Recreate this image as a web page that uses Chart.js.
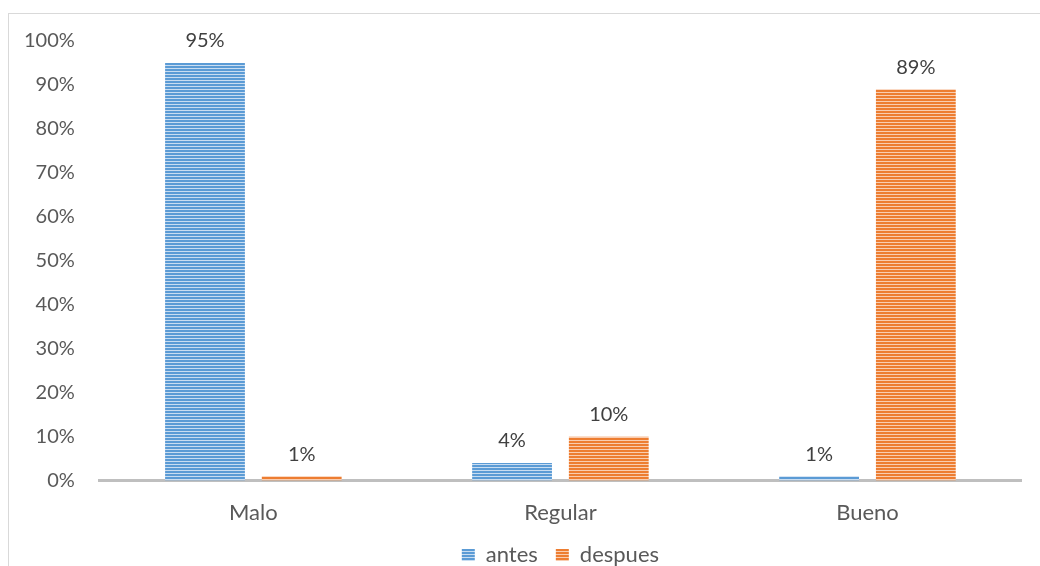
<!DOCTYPE html>
<html>
<head>
  <script src="https://cdn.jsdelivr.net/npm/chart.js"></script>
  <style>
    html, body { margin: 0; padding: 0; background: #fff; }
    #wrap { width: 1040px; height: 566px; }
  </style>
</head>
<body>
  <div id="wrap"><canvas id="chart" width="1040" height="566"></canvas></div>

  <script>
    // Categorías y valores (%)
    const categorias = ['Malo', 'Regular', 'Bueno'];
    const antes = [95, 4, 1];
    const despues = [1, 10, 89];
    const ticksY = [0, 10, 20, 30, 40, 50, 60, 70, 80, 90, 100];

    // Relleno rayado horizontal
    function rayado(color, claro) {
      const c = document.createElement('canvas');
      c.width = 4; c.height = 3;
      const g = c.getContext('2d');
      g.fillStyle = color;
      g.fillRect(0, 0, 4, 3);
      g.fillStyle = claro;
      g.fillRect(0, 2, 4, 1);
      return g.createPattern(c, 'repeat');
    }

    const ctx = document.getElementById('chart').getContext('2d');
    const azul = rayado('#5B9BD5', '#C9DDF1');
    const naranja = rayado('#ED7D31', '#F9CDB0');
    const fuente = { family: 'Lato', size: 20 };
    const fuenteGrande = { family: 'Lato', size: 22 };

    // Marco exterior y etiquetas de valor encima de cada barra
    const extras = {
      id: 'extras',
      beforeDraw(chart) {
        const c = chart.ctx;
        c.save();
        c.strokeStyle = '#D9D9D9';
        c.lineWidth = 1;
        c.strokeRect(8.5, 13.5, 1100, 700);
        c.restore();
      },
      afterDatasetsDraw(chart) {
        const c = chart.ctx;
        c.save();
        c.font = '20px Lato';
        c.fillStyle = '#404040';
        c.textAlign = 'center';
        c.textBaseline = 'bottom';
        chart.data.datasets.forEach((ds, i) => {
          chart.getDatasetMeta(i).data.forEach((bar, j) => {
            c.fillText(Math.round(ds.data[j]) + '%', bar.x, bar.y - 12);
          });
        });
        c.restore();
      }
    };

    new Chart(ctx, {
      type: 'bar',
      data: {
        labels: categorias,
        datasets: [
          { label: 'antes', data: antes, backgroundColor: azul, borderWidth: 0 },
          { label: 'despues', data: despues, backgroundColor: naranja, borderWidth: 0 }
        ]
      },
      options: {
        responsive: false,
        animation: false,
        categoryPercentage: 0.63,
        barPercentage: 0.825,
        layout: { padding: { left: 7, right: 19, top: 41, bottom: -10 } },
        plugins: {
          legend: {
            position: 'bottom',
            fullSize: false,
            labels: {
              font: fuenteGrande,
              color: '#595959',
              boxWidth: 13,
              boxHeight: 12,
              padding: 18
            }
          },
          tooltip: { enabled: false }
        },
        scales: {
          x: {
            grid: { display: false },
            border: { color: '#BFBFBF', width: 3 },
            ticks: { font: fuenteGrande, color: '#595959', padding: 11 },
            // la leyenda queda más cerca de las etiquetas del eje
            afterFit(scale) { scale.height -= 11; }
          },
          y: {
            min: 0,
            max: 100,
            afterBuildTicks(axis) { axis.ticks = ticksY.map(v => ({ value: v })); },
            grid: { display: false },
            border: { display: false },
            ticks: {
              font: fuente,
              color: '#595959',
              padding: 17,
              callback: v => v + '%'
            }
          }
        }
      },
      plugins: [extras]
    });
  </script>
</body>
</html>
